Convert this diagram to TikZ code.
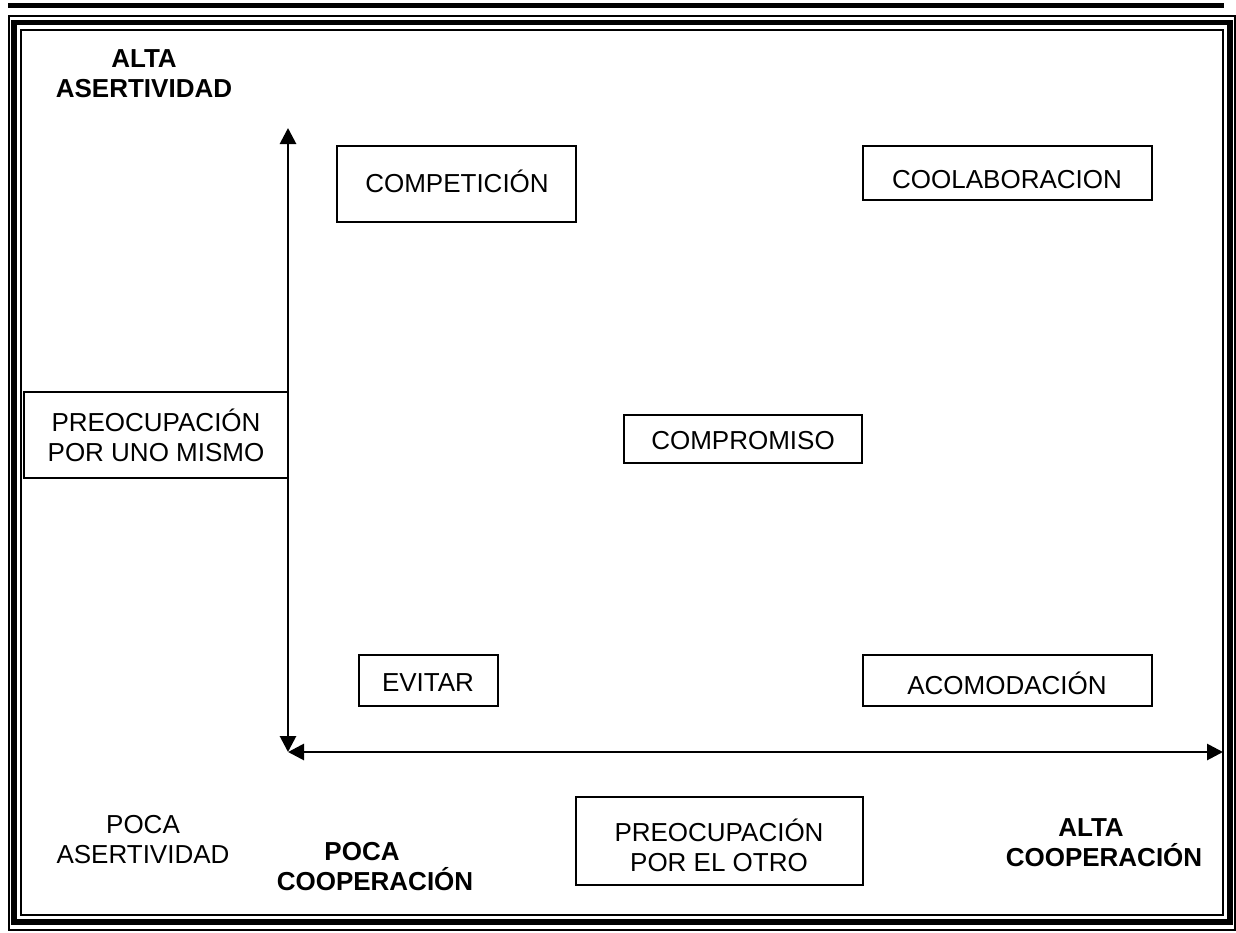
\documentclass[tikz,border=0pt]{standalone}
\usepackage{fontspec}
\setmainfont{Liberation Sans}
\usetikzlibrary{arrows.meta,fit}
\begin{document}
\begin{tikzpicture}[x=0.5pt,y=-0.5pt,
  lbl/.style={font=\fontsize{13}{15}\selectfont, align=center, inner sep=0pt},
  bld/.style={font=\fontsize{13}{15}\selectfont\bfseries, align=center, inner sep=0pt},
  box/.style={draw, line width=1pt, inner sep=0pt},
  tip/.style={Triangle[length=8pt,width=8pt]},
  axis/.style={line width=1.4pt, {Triangle[length=8pt,width=8pt]}-{Triangle[length=8pt,width=8pt]}}]
\useasboundingbox (0,0) rectangle (1236,932);

% page rules and triple frame
\fill (8,3) rectangle (1224,8);
\draw[line width=1pt] (8,16) -- (1236,16);
\draw[line width=1pt] (8.5,16) rectangle (1235,930);
\draw[line width=2.6pt] (14,22.5) rectangle (1230,922);
\draw[line width=1pt] (21,30) rectangle (1223,915);

% axes
\coordinate (o) at (288,752);
\coordinate (ytop) at (288,128);
\coordinate (xend) at (1223,752);
\draw[axis] (o) -- (ytop);
\draw[axis] (o) -- (xend);

% boxes
\node[box, fit={(337,146) (576,222)}] (comp) {};
\node[lbl] (comp-t) at (457,181) {COMPETICIÓN};
\node[box, fit={(863,146) (1152,200)}] (coola) {};
\node[lbl] (coola-t) at (1007,180) {COOLABORACION};
\node[box, fit={(24,392) (288,478)}] (uno) {};
\node[lbl] (uno-t) at (156,435) {PREOCUPACIÓN\\POR UNO MISMO};
\node[box, fit={(624,415) (862,463)}] (compr) {};
\node[lbl] (compr-t) at (743,441) {COMPROMISO};
\node[box, fit={(359,655) (498,706)}] (evit) {};
\node[lbl] (evit-t) at (428,683) {EVITAR};
\node[box, fit={(863,655) (1152,706)}] (acom) {};
\node[lbl] (acom-t) at (1007,683) {ACOMODACIÓN};
\node[box, fit={(576,797) (863,885)}] (otro) {};
\node[lbl] (otro-t) at (719,845) {PREOCUPACIÓN\\POR EL OTRO};

% axis labels
\node[bld] (alta-as) at (144,74) {ALTA\\ASERTIVIDAD};
\node[lbl] (poca-as) at (143,840) {POCA\\ASERTIVIDAD};
\node[bld] (poca-co) at (375,867) {POCA\hspace*{13pt}\\COOPERACIÓN};
\node[bld] (alta-co) at (1104,843) {ALTA\hspace*{13pt}\\COOPERACIÓN};
\end{tikzpicture}
\end{document}
